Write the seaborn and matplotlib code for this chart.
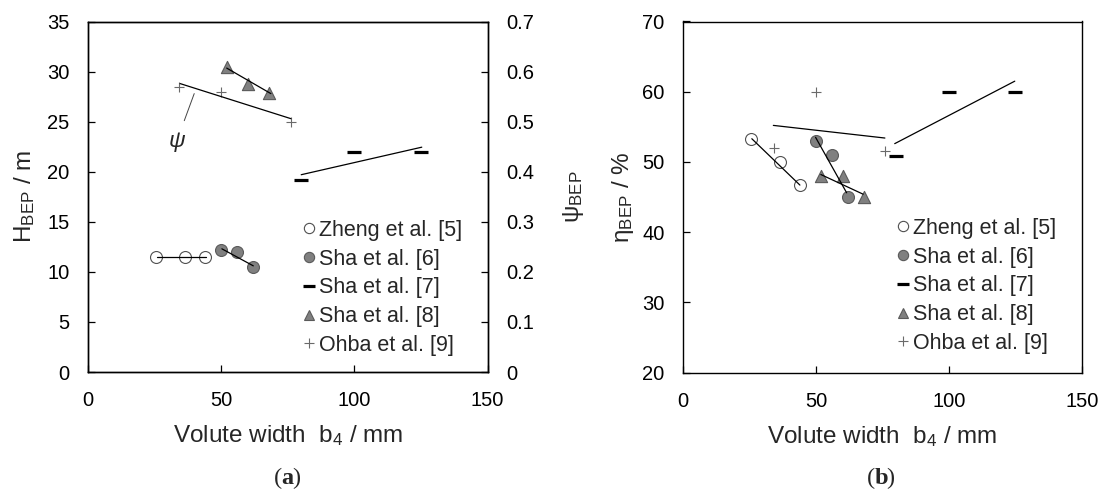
import matplotlib
matplotlib.use("Agg")
import matplotlib.pyplot as plt
import seaborn as sns
from matplotlib.lines import Line2D

# ---------------- data ----------------
series_labels = ["Zheng et al. [5]", "Sha et al. [6]", "Sha et al. [7]",
                 "Sha et al. [8]", "Ohba et al. [9]"]

# volute width b4 / mm
zheng_b = [25.5, 36.5, 44.0]
sha6_b = [50.0, 56.0, 62.0]
sha7_b = [80.0, 100.0, 125.0]
sha8_b = [52.0, 60.0, 68.0]
ohba_b = [34.0, 50.0, 76.0]

# panel (a): head H_BEP / m (left axis) and psi_BEP (right axis)
zheng_H = [11.5, 11.5, 11.5]
sha6_H = [12.2, 12.0, 10.5]
sha8_H = [30.5, 28.8, 27.9]
sha7_psi = [0.384, 0.44, 0.44]
ohba_psi = [0.569, 0.56, 0.50]

# panel (a) trend lines
zheng_H_fit_b, zheng_H_fit = [25.7, 44.1], [11.5, 11.5]
sha6_H_fit_b, sha6_H_fit = [50.2, 62.0], [12.3, 10.6]
sha8_H_fit_b, sha8_H_fit = [52.0, 68.6], [30.35, 27.8]
sha7_psi_fit_b, sha7_psi_fit = [80.0, 125.3], [0.394, 0.449]
ohba_psi_fit_b, ohba_psi_fit = [34.5, 76.1], [0.576, 0.506]

# panel (b): efficiency eta_BEP / %
zheng_eta = [53.3, 50.0, 46.7]
sha6_eta = [53.0, 51.0, 45.0]
sha7_eta = [50.8, 60.0, 60.0]
sha8_eta = [48.0, 48.0, 45.0]
ohba_eta = [52.0, 60.0, 51.5]

# panel (b) trend lines
zheng_eta_fit_b, zheng_eta_fit = [25.8, 43.9], [53.3, 46.7]
sha6_eta_fit_b, sha6_eta_fit = [49.8, 61.5], [53.5, 45.6]
sha7_eta_fit_b, sha7_eta_fit = [79.6, 124.8], [52.6, 61.5]
sha8_eta_fit_b, sha8_eta_fit = [51.8, 67.7], [48.2, 45.4]
ohba_eta_fit_b, ohba_eta_fit = [33.9, 75.9], [55.2, 53.4]

x_ticks = [0, 50, 100, 150]
H_ticks = [0, 5, 10, 15, 20, 25, 30, 35]
psi_ticks = [0, 0.1, 0.2, 0.3, 0.4, 0.5, 0.6, 0.7]
psi_ticklabels = ["0", "0.1", "0.2", "0.3", "0.4", "0.5", "0.6", "0.7"]
eta_ticks = [20, 30, 40, 50, 60, 70]

# ---------------- style ----------------
sns.set_theme(style="white")
plt.rcParams["font.family"] = ["Liberation Sans", "DejaVu Sans"]
plt.rcParams["mathtext.fontset"] = "custom"
plt.rcParams["mathtext.rm"] = "Liberation Sans"
plt.rcParams["mathtext.it"] = "Liberation Sans:italic"
plt.rcParams["mathtext.bf"] = "Liberation Sans:bold"
plt.rcParams["axes.edgecolor"] = "black"
plt.rcParams["axes.linewidth"] = 1.0

TICK_FS = 14.5
LABEL_FS = 17.5
LEG_FS = 15.5

st_open = dict(marker="o", s=8.6 ** 2, color="white", edgecolor="#505050", linewidth=0.8)
st_fill = dict(marker="o", s=8.6 ** 2, color="#808080", edgecolor="#5a5a5a", linewidth=0.8)
st_dash = dict(marker="_", s=9.6 ** 2, color="black", linewidth=2.3)
st_tri = dict(marker="^", s=8.8 ** 2, color="#808080", edgecolor="#5a5a5a", linewidth=0.8)
st_plus = dict(marker="+", s=7.5 ** 2, color="#6a6a6a", linewidth=0.8)


def pts(ax, x, y, st):
    sns.scatterplot(x=x, y=y, ax=ax, legend=False, zorder=2, **st)


def fit(ax, x, y):
    sns.lineplot(x=x, y=y, ax=ax, color="black", linewidth=0.9,
                 estimator=None, sort=False, zorder=3)


def legend_handles():
    return [
        Line2D([], [], ls="none", marker="o", ms=7.4, mfc="white", mec="#505050", mew=0.8),
        Line2D([], [], ls="none", marker="o", ms=7.4, mfc="#808080", mec="#5a5a5a", mew=0.8),
        Line2D([], [], ls="none", marker="_", ms=9.0, color="black", mew=2.3),
        Line2D([], [], ls="none", marker="^", ms=7.2, mfc="#808080", mec="#5a5a5a", mew=0.8),
        Line2D([], [], ls="none", marker="+", ms=7.0, color="#6a6a6a", mew=0.8),
    ]


def style_axis(ax, left=True, right=False):
    ax.tick_params(axis="both", direction="in", length=4.8, width=0.9,
                   labelsize=TICK_FS, colors="black", labelcolor="black")
    ax.tick_params(axis="y", pad=13.5, left=left, labelleft=left,
                   right=right, labelright=right)
    ax.tick_params(axis="x", pad=14, bottom=True, top=False)
    for sp in ax.spines.values():
        sp.set_visible(True)
        sp.set_color("black")
        sp.set_linewidth(1.0)


W, H = 1102, 495
fig = plt.figure(figsize=(W / 100, H / 100), dpi=100)

ax_l = fig.add_axes([88.3 / W, (H - 372) / H, (487.5 - 88.3) / W, (372 - 21.5) / H])
ax_r = fig.add_axes([683.3 / W, (H - 372.5) / H, (1081.7 - 683.3) / W, (372.5 - 21.5) / H])

# ---------- panel (a) ----------
ax_l2 = ax_l.twinx()
pts(ax_l, zheng_b, zheng_H, st_open)
pts(ax_l, sha6_b, sha6_H, st_fill)
pts(ax_l, sha8_b, sha8_H, st_tri)
fit(ax_l, zheng_H_fit_b, zheng_H_fit)
fit(ax_l, sha6_H_fit_b, sha6_H_fit)
fit(ax_l, sha8_H_fit_b, sha8_H_fit)

pts(ax_l2, sha7_b, sha7_psi, st_dash)
pts(ax_l2, ohba_b, ohba_psi, st_plus)
fit(ax_l2, sha7_psi_fit_b, sha7_psi_fit)
fit(ax_l2, ohba_psi_fit_b, ohba_psi_fit)

ax_l.set_xlim(0, 150)
ax_l.set_ylim(0, 35)
ax_l2.set_ylim(0, 0.7)
ax_l.set_xticks(x_ticks)
ax_l.set_yticks(H_ticks)
ax_l2.set_yticks(psi_ticks)
ax_l2.set_yticklabels(psi_ticklabels)
style_axis(ax_l, left=True, right=False)
style_axis(ax_l2, left=False, right=True)

ax_l.set_xlabel(r"Volute width  b$_\mathrm{4}$ / mm", fontsize=LABEL_FS)
ax_l.xaxis.set_label_coords(0.5, -0.146)
ax_l.set_ylabel(r"H$_\mathrm{BEP}$ / m", fontsize=LABEL_FS)
ax_l.yaxis.set_label_coords(-0.128, 0.5)
ax_l2.set_ylabel(r"ψ$_\mathrm{BEP}$", fontsize=LABEL_FS)
ax_l2.yaxis.set_label_coords(1.183, 0.5)

ax_l2.annotate("ψ", xy=(39.8, 0.556), xytext=(33.3, 0.462),
               fontsize=16.5, fontstyle="italic", ha="center", va="center",
               arrowprops=dict(arrowstyle="-", color="#444444", lw=0.7,
                               shrinkA=4, shrinkB=0))

ax_l2.legend(legend_handles(), series_labels, loc="upper left",
             bbox_to_anchor=(304 / W, 1 - 220 / H), bbox_transform=fig.transFigure,
             frameon=False, fontsize=LEG_FS, handlelength=0.5, handletextpad=0.2,
             labelspacing=0.36, borderpad=0, borderaxespad=0)

# ---------- panel (b) ----------
pts(ax_r, zheng_b, zheng_eta, st_open)
pts(ax_r, sha6_b, sha6_eta, st_fill)
pts(ax_r, sha7_b, sha7_eta, st_dash)
pts(ax_r, sha8_b, sha8_eta, st_tri)
pts(ax_r, ohba_b, ohba_eta, st_plus)
fit(ax_r, zheng_eta_fit_b, zheng_eta_fit)
fit(ax_r, sha6_eta_fit_b, sha6_eta_fit)
fit(ax_r, sha7_eta_fit_b, sha7_eta_fit)
fit(ax_r, sha8_eta_fit_b, sha8_eta_fit)
fit(ax_r, ohba_eta_fit_b, ohba_eta_fit)

ax_r.set_xlim(0, 150)
ax_r.set_ylim(20, 70)
ax_r.set_xticks(x_ticks)
ax_r.set_yticks(eta_ticks)
style_axis(ax_r, left=True, right=False)
ax_r.set_xlabel(r"Volute width  b$_\mathrm{4}$ / mm", fontsize=LABEL_FS)
ax_r.xaxis.set_label_coords(0.5, -0.146)
ax_r.set_ylabel(r"η$_\mathrm{BEP}$ / %", fontsize=LABEL_FS)
ax_r.yaxis.set_label_coords(-0.118, 0.5)

ax_r.legend(legend_handles(), series_labels, loc="upper left",
            bbox_to_anchor=(898 / W, 1 - 218 / H), bbox_transform=fig.transFigure,
            frameon=False, fontsize=LEG_FS, handlelength=0.5, handletextpad=0.2,
            labelspacing=0.36, borderpad=0, borderaxespad=0)

# ---------- panel tags ----------
for cx, tag in [(287, "a"), (881, "b")]:
    y = 1 - 478 / H
    half = 5.5 / W
    fig.text(cx / W, y, tag, fontsize=17.5, fontweight="bold",
             family="Liberation Serif", ha="center", va="center")
    fig.text(cx / W - half, y, "(", fontsize=17.5, family="Liberation Serif",
             ha="right", va="center")
    fig.text(cx / W + half, y, ")", fontsize=17.5, family="Liberation Serif",
             ha="left", va="center")

fig.savefig("out.png", dpi=100)
